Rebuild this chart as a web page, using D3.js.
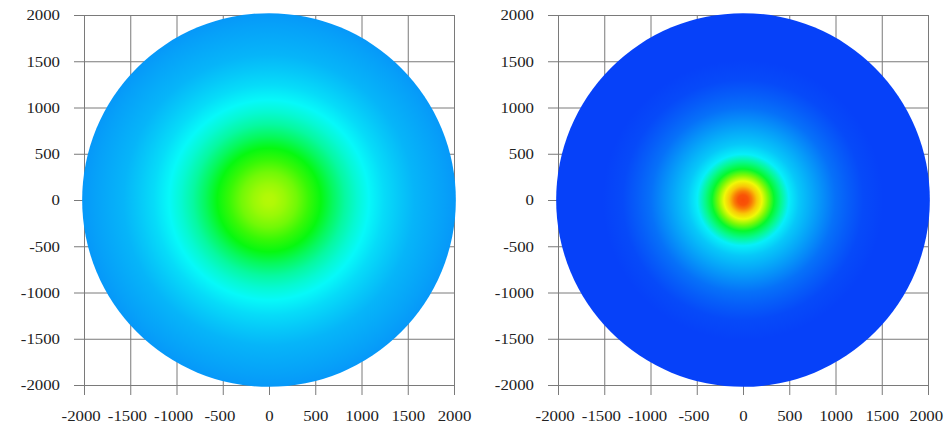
<!DOCTYPE html>
<html>
<head>
<meta charset="utf-8">
<script src="https://cdn.jsdelivr.net/npm/d3@7"></script>
<style>
  html, body { margin: 0; padding: 0; background: #fff; }
  svg { display: block; }
  .tick text { font-family: 'Liberation Serif', 'Times New Roman', serif; font-size: 15px; fill: #222; }
  .tick line { stroke: #7a7a7a; }
</style>
</head>
<body>
<svg id="chart" width="944" height="424"></svg>
<script>
// ticks shared by both plots
const tickValues = [-2000, -1500, -1000, -500, 0, 500, 1000, 1500, 2000]

// radial profiles: distance from centre, level (0 blue .. 1 red)
const leftRadius = [0, 65, 175, 300, 430, 560, 690, 820, 950, 1080, 1245, 1405, 1570, 1730, 1890, 2020]
const leftLevel = [0.68, 0.675, 0.65, 0.61, 0.55, 0.49, 0.41, 0.34, 0.29, 0.25, 0.22, 0.20, 0.18, 0.17, 0.16, 0.15]

const rightRadius = [0, 55, 95, 150, 205, 270, 335, 410, 495, 605, 735, 865, 995, 1135, 1300, 1515, 1730, 2020]
const rightLevel = [0.93, 0.92, 0.88, 0.80, 0.74, 0.62, 0.46, 0.36, 0.24, 0.20, 0.17, 0.14, 0.11, 0.09, 0.07, 0.06, 0.06, 0.06]

const size = 370
const plotTop = 15
const tickLen = 10
const stretch = 1.12 // the labels in the original are a bit wide

const panels = [
    { id: 'left', left: 84, radius: leftRadius, level: leftLevel },
    { id: 'right', left: 558, radius: rightRadius, level: rightLevel }
]

// rainbow map: blue -> cyan -> green -> yellow -> red
const color = d3.scaleSequential(t => d3.hsl(240 * (1 - t), 0.95, 0.5).formatHex()).domain([0, 1])

const svg = d3.select('#chart')
const defs = svg.append('defs')

panels.forEach(p => {
    const x = d3.scaleLinear().domain([-2000, 2000]).range([p.left, p.left + size])
    const y = d3.scaleLinear().domain([-2000, 2000]).range([plotTop + size, plotTop])
    const g = svg.append('g').attr('class', 'panel-' + p.id)

    // bottom axis: ticks drawn all the way up, they double as the grid
    const xAxis = g.append('g')
        .attr('transform', `translate(0,${plotTop + size + tickLen})`)
        .call(d3.axisBottom(x)
            .tickValues(tickValues)
            .tickSizeInner(-(size + tickLen))
            .tickSizeOuter(0)
            .tickPadding(15)
            .tickFormat(d => String(d)))
    xAxis.select('.domain').remove()
    xAxis.selectAll('.tick text')
        .attr('transform', `scale(${stretch},1)`)
        .attr('dx', d => d < 0 ? -3 : (d === 2000 && p.id === 'right' ? -2 : 0))

    const yAxis = g.append('g')
        .attr('transform', `translate(${p.left - tickLen},0)`)
        .call(d3.axisLeft(y)
            .tickValues(tickValues)
            .tickSizeInner(-(size + tickLen))
            .tickSizeOuter(0)
            .tickPadding(14)
            .tickFormat(d => String(d)))
    yAxis.select('.domain').remove()
    yAxis.selectAll('.tick text')
        .attr('x', -14 / stretch)
        .attr('transform', `scale(${stretch},1)`)

    // the disc, shaded with the radial profile
    const maxR = d3.max(p.radius)
    const rPx = x(maxR) - x(0)
    const grad = defs.append('radialGradient')
        .attr('id', 'grad-' + p.id)
        .attr('gradientUnits', 'userSpaceOnUse')
        .attr('cx', x(0))
        .attr('cy', y(0))
        .attr('r', rPx)

    grad.selectAll('stop')
        .data(p.radius)
        .enter()
        .append('stop')
        .attr('offset', d => d / maxR)
        .attr('stop-color', (d, i) => color(p.level[i]))

    g.append('circle')
        .attr('cx', x(0))
        .attr('cy', y(0))
        .attr('r', rPx)
        .attr('fill', `url(#grad-${p.id})`)
})
</script>
</body>
</html>
